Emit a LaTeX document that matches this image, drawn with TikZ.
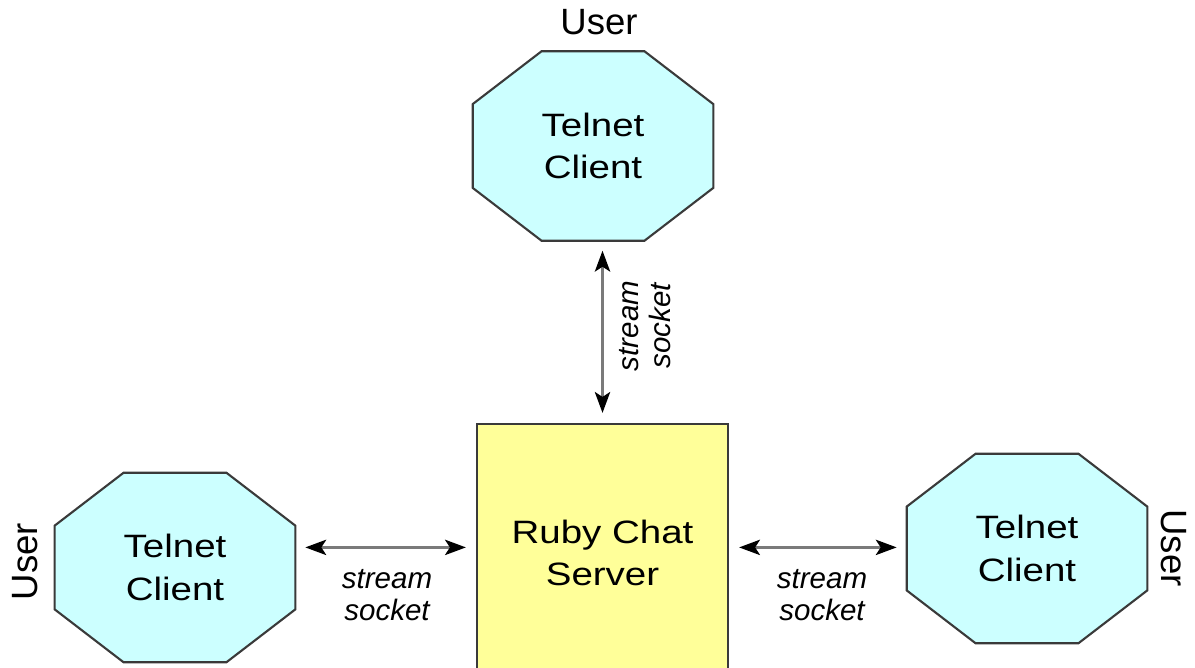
\documentclass[tikz,border=0pt]{standalone}
\usepackage{fontspec}
\setmainfont{Liberation Sans}
\newfontfamily\widesans[FakeStretch=1.19]{Liberation Sans}
\usetikzlibrary{arrows.meta,positioning,backgrounds}
\definecolor{clientcyan}{HTML}{CCFFFF}
\definecolor{serveryellow}{HTML}{FFFF99}
\definecolor{edgegray}{HTML}{3A3A3A}
\definecolor{linkgray}{HTML}{7A7A7A}

% octagon around a (rectangular) client node
\newcommand\octagon[1]{%
  \filldraw[octo] ([xshift=1.72cm]#1.north west) -- ([xshift=-1.72cm]#1.north east)
    -- ([yshift=-1.32cm]#1.north east) -- ([yshift=1.32cm]#1.south east)
    -- ([xshift=-1.72cm]#1.south east) -- ([xshift=1.72cm]#1.south west)
    -- ([yshift=1.32cm]#1.south west) -- ([yshift=-1.32cm]#1.north west) -- cycle;}

\begin{document}
\begin{tikzpicture}[x=0.025cm,y=0.025cm,
    >={Stealth[length=5.2mm,width=3.8mm,inset=1.2mm,color=black]},
    client/.style={minimum width=6cm,minimum height=4.72cm,inner sep=0pt,%
      align=center,font=\widesans\fontsize{23}{30}\selectfont},
    server/.style={draw=edgegray,fill=serveryellow,line width=1.5pt,%
      minimum width=6.275cm,minimum height=6.45cm,inner sep=0pt,%
      align=center,font=\widesans\fontsize{23}{30}\selectfont},
    octo/.style={draw=edgegray,fill=clientcyan,line width=1.5pt},
    user/.style={inner sep=0pt,font=\fontsize{26}{30}\selectfont},
    sock/.style={inner sep=0pt,align=center,font=\itshape\fontsize{21}{23}\selectfont},
    link/.style={<->,draw=linkgray,line width=2.2pt,shorten <=2.5mm,shorten >=2.5mm}]
  \useasboundingbox (0,0) rectangle (1195,667);
  \clip (0,0) rectangle (1195,667);

  \node[server] (srv) at (602.5,114) {Ruby Chat\\Server};
  \node[client] (tc) at (593,521) {Telnet\\Client};
  \node[client] (lc) at (175,99.5) {Telnet\\Client};
  \node[client] (rc) at (1027,118.5) {Telnet\\Client};
  \begin{scope}[on background layer]
    \octagon{tc}
    \octagon{lc}
    \octagon{rc}
  \end{scope}

  \node[user,anchor=base] (ut) at (599,632) {User};
  \node[user,rotate=90] (ul) at (25,105.5) {User};
  \node[user,rotate=-90] (ur) at (1174,119) {User};

  \coordinate (lt) at ([yshift=1.4mm]srv.west);
  \coordinate (rt) at ([yshift=1.4mm]srv.east);
  \draw[link] (srv.north) -- (srv.north |- tc.south);
  \draw[link] (lc.east |- lt) -- (lt);
  \draw[link] (rt) -- (rc.west |- rt);

  \node[sock,rotate=90] (st) at (645,341) {stream\\socket};
  \node[sock] (sl) at (387,72) {stream\\socket};
  \node[sock] (sr) at (822,72) {stream\\socket};
\end{tikzpicture}
\end{document}
